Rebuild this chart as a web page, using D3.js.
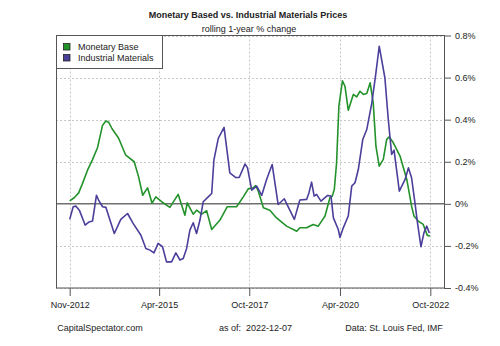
<!DOCTYPE html>
<html>
<head>
<meta charset="utf-8">
<script src="https://cdn.jsdelivr.net/npm/d3@7"></script>
<style>
    body { margin: 0; background: #fff; }
    svg { display: block; font-family: "Liberation Sans", Arial, sans-serif; }
    text { white-space: pre; }
</style>
</head>
<body>
<svg id="chart" width="500" height="346"></svg>
<script>
// rolling 1-year % change, Monetary Base
const baseDates = [
    "2012-11-01", "2012-12-16", "2013-01-30", "2013-03-03", "2013-04-29", "2013-06-18",
    "2013-08-08", "2013-09-27", "2013-10-31", "2013-11-27", "2013-12-30", "2014-03-06",
    "2014-05-18", "2014-08-11", "2014-09-24", "2014-11-04", "2014-12-23", "2015-02-06",
    "2015-03-16", "2015-05-28", "2015-08-04", "2015-10-26", "2016-01-02", "2016-01-25",
    "2016-03-25", "2016-04-28", "2016-06-18", "2016-08-07", "2016-09-27", "2016-12-19",
    "2017-03-01", "2017-06-04", "2017-08-10", "2017-09-29", "2017-11-18", "2017-12-12",
    "2018-01-08", "2018-02-28", "2018-05-04", "2018-07-10", "2018-10-19", "2019-01-29",
    "2019-03-01", "2019-05-08", "2019-07-13", "2019-09-02", "2019-11-09", "2019-12-28",
    "2020-01-21", "2020-02-10", "2020-03-04", "2020-03-27", "2020-05-02", "2020-05-27",
    "2020-06-29", "2020-08-19", "2020-09-22", "2020-10-25", "2020-11-28", "2021-01-01",
    "2021-02-04", "2021-03-07", "2021-04-03", "2021-05-06", "2021-06-16", "2021-07-20",
    "2021-08-15", "2021-09-25", "2021-12-01", "2022-02-07", "2022-03-27", "2022-04-20",
    "2022-06-02", "2022-07-22", "2022-09-01", "2022-09-28"
];
const baseValues = [
    0.014, 0.029, 0.052, 0.089, 0.160, 0.210,
    0.268, 0.374, 0.394, 0.388, 0.358, 0.313,
    0.231, 0.200, 0.128, 0.041, 0.076, 0.003,
    0.033, 0.005, -0.017, 0.045, -0.054, 0.005,
    -0.049, -0.030, -0.049, -0.033, -0.122, -0.077,
    -0.014, -0.014, 0.033, 0.071, 0.076, 0.087,
    0.060, -0.019, -0.030, -0.067, -0.106, -0.130,
    -0.114, -0.114, -0.098, -0.106, -0.058, 0.029,
    0.037, 0.068, 0.195, 0.464, 0.585, 0.559,
    0.445, 0.520, 0.508, 0.535, 0.520, 0.524,
    0.575, 0.480, 0.274, 0.179, 0.211, 0.306,
    0.318, 0.290, 0.227, 0.116, -0.011, -0.058,
    -0.082, -0.098, -0.150, -0.153
];

// rolling 1-year % change, Industrial Materials
const matDates = [
    "2012-11-01", "2012-12-06", "2013-01-03", "2013-02-06", "2013-04-05", "2013-05-15",
    "2013-06-18", "2013-07-28", "2013-08-18", "2013-09-27", "2013-10-31", "2013-12-10",
    "2014-01-23", "2014-03-29", "2014-06-05", "2014-07-31", "2014-10-17", "2014-12-06",
    "2015-01-16", "2015-02-25", "2015-04-08", "2015-05-22", "2015-07-01", "2015-08-21",
    "2015-10-03", "2015-11-13", "2015-12-16", "2016-01-19", "2016-02-21", "2016-03-25",
    "2016-04-28", "2016-06-01", "2016-07-04", "2016-08-23", "2016-09-27", "2016-10-19",
    "2016-12-02", "2017-01-29", "2017-03-28", "2017-05-27", "2017-06-30", "2017-08-27",
    "2017-09-21", "2017-11-03", "2017-12-23", "2018-02-11", "2018-04-01", "2018-05-27",
    "2018-07-26", "2018-09-26", "2019-01-05", "2019-03-01", "2019-05-08", "2019-05-31",
    "2019-06-27", "2019-07-23", "2019-08-16", "2019-09-29", "2019-12-05", "2020-01-08",
    "2020-02-01", "2020-03-21", "2020-04-07", "2020-05-10", "2020-06-29", "2020-08-03",
    "2020-09-05", "2020-10-08", "2020-11-22", "2021-01-01", "2021-02-21", "2021-04-03",
    "2021-05-06", "2021-05-30", "2021-07-02", "2021-08-05", "2021-09-08", "2021-10-02",
    "2021-11-24", "2022-01-21", "2022-02-23", "2022-03-27", "2022-04-30", "2022-05-23",
    "2022-06-29", "2022-07-29", "2022-08-26", "2022-09-21"
];
const matValues = [
    -0.074, -0.014, -0.011, -0.030, -0.101, -0.086,
    -0.082, 0.041, 0.018, -0.014, -0.017, -0.077,
    -0.141, -0.074, -0.046, -0.093, -0.149, -0.212,
    -0.220, -0.233, -0.188, -0.204, -0.276, -0.276,
    -0.233, -0.267, -0.260, -0.212, -0.125, -0.090,
    -0.141, -0.077, 0.010, 0.033, 0.049, 0.208,
    0.311, 0.363, 0.147, 0.125, 0.125, 0.189,
    0.172, 0.065, 0.084, 0.040, 0.116, 0.187,
    -0.003, 0.024, -0.074, 0.018, 0.021, 0.052,
    0.103, 0.037, 0.045, 0.013, 0.040, 0.037,
    -0.067, -0.122, -0.160, -0.114, -0.058, 0.084,
    0.100, 0.163, 0.306, 0.353, 0.480, 0.622,
    0.749, 0.686, 0.599, 0.401, 0.235, 0.255,
    0.060, 0.116, 0.171, 0.124, 0.005, -0.082,
    -0.204, -0.138, -0.106, -0.138
];

const xTickDates = ["2012-11-01", "2015-04-18", "2017-10-09", "2020-04-07", "2022-10-01"];
const yTicks = [-0.4, -0.2, 0, 0.2, 0.4, 0.6, 0.8];

const seriesNames = ["Monetary Base", "Industrial Materials"];
const seriesColors = ["#23922b", "#4a3f9a"];

const parse = d3.timeParse("%Y-%m-%d");
const series = [
    baseDates.map((d, i) => ({ date: parse(d), value: baseValues[i] })),
    matDates.map((d, i) => ({ date: parse(d), value: matValues[i] }))
];

const box = { left: 56, right: 444, top: 35.5, bottom: 288 };

const x = d3.scaleTime()
    .domain([parse("2012-11-01"), parse("2022-10-01")])
    .range([69.7, 430.3]);

const y = d3.scaleLinear()
    .domain([-0.4, 0.8])
    .range([box.bottom, box.top]);

const svg = d3.select("#chart");
const axisColor = "#555";

// grid
const grid = svg.append("g")
    .attr("stroke", "#c8c8c8")
    .attr("stroke-width", 1)
    .attr("stroke-dasharray", "2,2");

grid.selectAll(".vgrid")
    .data(xTickDates.map(parse))
    .join("line")
    .attr("x1", d => Math.round(x(d)) + 0.5)
    .attr("x2", d => Math.round(x(d)) + 0.5)
    .attr("y1", box.top)
    .attr("y2", box.bottom);

grid.selectAll(".hgrid")
    .data(yTicks.filter(v => v !== 0))
    .join("line")
    .attr("x1", box.left)
    .attr("x2", box.right)
    .attr("y1", d => Math.round(y(d)) + 0.5)
    .attr("y2", d => Math.round(y(d)) + 0.5);

// zero line
svg.append("line")
    .attr("x1", box.left).attr("x2", box.right)
    .attr("y1", y(0)).attr("y2", y(0))
    .attr("stroke", "#707070")
    .attr("stroke-width", 1.5);

// series
const line = d3.line()
    .x(d => x(d.date))
    .y(d => y(d.value));

svg.append("g")
    .selectAll("path")
    .data(series)
    .join("path")
    .attr("d", line)
    .attr("fill", "none")
    .attr("stroke", (d, i) => seriesColors[i])
    .attr("stroke-width", 1.6)
    .attr("stroke-linejoin", "round");

// plot frame
svg.append("rect")
    .attr("x", box.left + 0.5)
    .attr("y", box.top)
    .attr("width", box.right - box.left)
    .attr("height", box.bottom - box.top)
    .attr("fill", "none")
    .attr("stroke", axisColor)
    .attr("stroke-width", 1);

// x axis
const xAxis = d3.axisBottom(x)
    .tickValues(xTickDates.map(parse))
    .tickFormat(d3.timeFormat("%b-%Y"))
    .tickSize(8)
    .tickSizeOuter(0);

const gx = svg.append("g")
    .attr("transform", `translate(0,${box.bottom})`)
    .call(xAxis);
gx.select(".domain").remove();
gx.selectAll(".tick line").attr("stroke", axisColor);
gx.selectAll(".tick text")
    .attr("y", 14)
    .attr("font-family", "Liberation Sans, Arial, sans-serif")
    .attr("font-size", 9)
    .attr("fill", "#222");

// y axis on the right, plain hyphen for negatives
const yAxis = d3.axisRight(y)
    .tickValues(yTicks)
    .tickFormat(d => d === 0 ? "0%" : d.toFixed(1) + "%")
    .tickSize(7)
    .tickSizeOuter(0);

const gy = svg.append("g")
    .attr("transform", `translate(${box.right},0)`)
    .call(yAxis);
gy.select(".domain").remove();
gy.selectAll(".tick line").attr("stroke", axisColor);
gy.selectAll(".tick text")
    .attr("x", 11)
    .attr("font-family", "Liberation Sans, Arial, sans-serif")
    .attr("font-size", 9)
    .attr("fill", "#222");

// legend
const legend = svg.append("g");
legend.append("rect")
    .attr("x", box.left + 0.5).attr("y", box.top)
    .attr("width", 106).attr("height", 33)
    .attr("fill", "#fff")
    .attr("stroke", axisColor);

seriesNames.forEach((name, i) => {
    const ly = 44 + i * 11;
    legend.append("rect")
        .attr("x", 63.5).attr("y", ly - 0.5)
        .attr("width", 6.5).attr("height", 6.5)
        .attr("fill", seriesColors[i])
        .attr("stroke", "#222")
        .attr("stroke-width", 0.8);
    legend.append("text")
        .attr("x", 78).attr("y", ly + 6.2)
        .attr("font-size", 9)
        .attr("fill", "#222")
        .text(name);
});

// titles
svg.append("text")
    .attr("x", 248).attr("y", 18)
    .attr("text-anchor", "middle")
    .attr("font-size", 9)
    .attr("font-weight", "bold")
    .attr("fill", "#222")
    .text("Monetary Based vs. Industrial Materials Prices");

svg.append("text")
    .attr("x", 249).attr("y", 31.5)
    .attr("text-anchor", "middle")
    .attr("font-size", 9)
    .attr("fill", "#222")
    .text("rolling 1-year % change");

// footer
const footer = [
    { text: "CapitalSpectator.com", x: 100 },
    { text: "as of:  2022-12-07", x: 255.5 },
    { text: "Data: St. Louis Fed, IMF", x: 394 }
];
svg.append("g")
    .selectAll("text")
    .data(footer)
    .join("text")
    .attr("x", d => d.x)
    .attr("y", 330.5)
    .attr("text-anchor", "middle")
    .attr("font-size", 9)
    .attr("fill", "#222")
    .text(d => d.text);
</script>
</body>
</html>
